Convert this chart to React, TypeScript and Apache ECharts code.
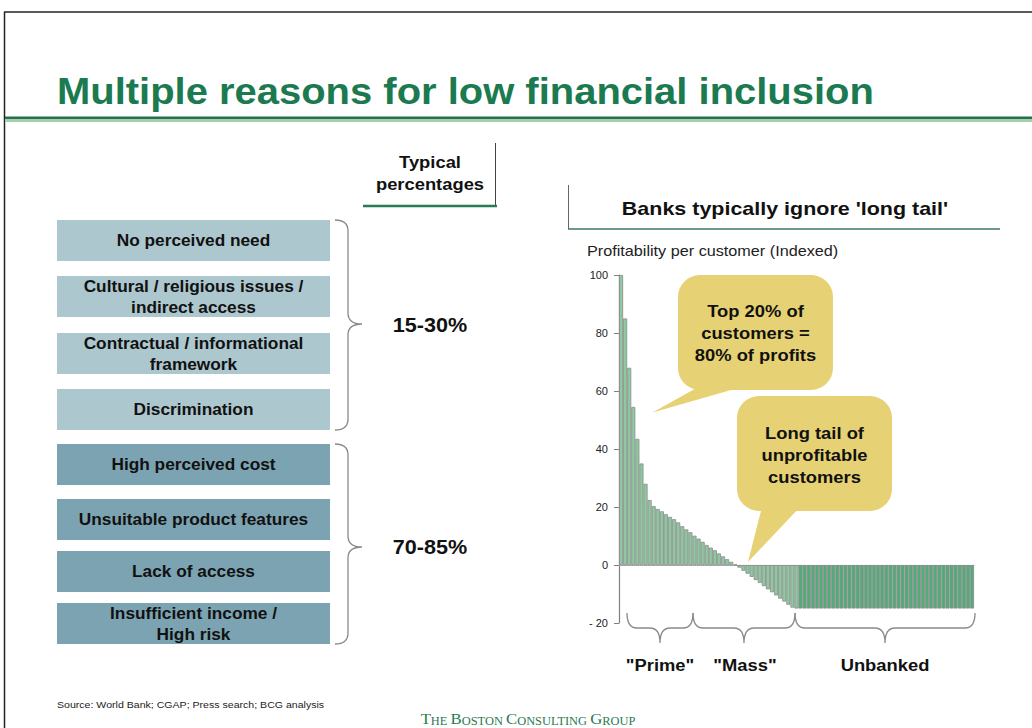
import React, { useEffect, useRef } from "react";
import * as echarts from "echarts";

// ---------- data ----------
const primeMassValues = [
  100, 85, 68, 54.5, 43.5, 35, 28, 22.4, 20.3, 19.3, 18.5, 17.5, 16.6, 15.8, 14.7,
  13.4, 12.3, 11.3, 10.1, 9.1, 8.0, 6.9, 6.0, 5.1, 4.0, 3.0, 2.0, 1.1, 0.2,
  -0.9, -2, -3, -4.1, -5.2, -6.2, -7.3, -8.4, -9.4, -10.5, -11.6, -12.6, -13.7, -14.7, -15,
];
const unbankedValues = [
  -15, -15, -15, -15, -15, -15, -15, -15, -15, -15,
  -15, -15, -15, -15, -15, -15, -15, -15, -15, -15,
  -15, -15, -15, -15, -15, -15, -15, -15, -15, -15,
  -15, -15, -15, -15, -15, -15, -15, -15, -15, -15,
  -15, -15, -15,
];
const yAxisMin = -20;
const yAxisMax = 100;
const yAxisStep = 20;

const titleText = "Multiple reasons for low financial inclusion";
const chartHeader = "Banks typically ignore 'long tail'";
const chartSubtitle = "Profitability per customer (Indexed)";
const percentHeader = "Typical\npercentages";
const reasonsLow = [
  "No perceived need",
  "Cultural / religious issues /\nindirect access",
  "Contractual / informational\nframework",
  "Discrimination",
];
const reasonsHigh = [
  "High perceived cost",
  "Unsuitable product features",
  "Lack of access",
  "Insufficient income /\nHigh risk",
];
const groupPercentages = ["15-30%", "70-85%"];
const segmentLabels = ['"Prime"', '"Mass"', "Unbanked"];
const callout1 = "Top 20% of\ncustomers =\n80% of profits";
const callout2 = "Long tail of\nunprofitable\ncustomers";
const sourceText = "Source: World Bank; CGAP; Press search; BCG analysis";

// ---------- style ----------
const FONT = "'Liberation Sans', Arial, Helvetica, sans-serif";
const SERIF = "'Liberation Serif', 'Times New Roman', serif";
const SX = 1.08;
const GREEN_TITLE = "#1B7A50";
const LIGHT_BAR = "#8EC8A0";
const DARK_BAR = "#52AC7A";
const BOX_LIGHT = "#ADC7CF";
const BOX_DARK = "#7CA3B1";
const CALLOUT = "#E6D174";

function vBrace(xa: number, xm: number, xt: number, y0: number, y1: number, ym: number, r: number) {
  return `M${xa} ${y0} Q${xm} ${y0} ${xm} ${y0 + r} L${xm} ${ym - r} Q${xm} ${ym} ${xt} ${ym} Q${xm} ${ym} ${xm} ${ym + r} L${xm} ${y1 - r} Q${xm} ${y1} ${xa} ${y1}`;
}
function hBrace(x0: number, x1: number, xc: number, y0: number, ym: number, yt: number, r: number) {
  return `M${x0} ${y0} Q${x0} ${ym} ${x0 + r} ${ym} L${xc - r} ${ym} Q${xc} ${ym} ${xc} ${yt} Q${xc} ${ym} ${xc + r} ${ym} L${x1 - r} ${ym} Q${x1} ${ym} ${x1} ${y0}`;
}

const braceDefs: Record<string, string> = {
  braceV1: vBrace(335, 348, 362, 220, 430, 324, 11),
  braceV2: vBrace(335, 348, 362, 444, 644, 547, 11),
  braceH1: hBrace(627, 693, 660, 613, 628, 643, 10),
  braceH2: hBrace(693, 795, 744, 613, 628, 643, 10),
  braceH3: hBrace(795, 975, 885, 613, 628, 643, 10),
};

export default function App() {
  const ref = useRef<HTMLDivElement>(null);

  useEffect(() => {
    document.body.style.margin = "0";
    Object.keys(braceDefs).forEach((k) => {
      echarts.graphic.registerShape(k, echarts.graphic.extendPath(braceDefs[k], {}) as any);
    });
    const chart = echarts.init(ref.current!, undefined, { renderer: "svg" });

    const allValues = [...primeMassValues, ...unbankedValues];
    const categories = allValues.map((_, i) => String(i + 1));
    const barData = [
      ...primeMassValues.map((v) => ({ value: v, itemStyle: { color: LIGHT_BAR } })),
      ...unbankedValues.map((v) => ({ value: v, itemStyle: { color: DARK_BAR } })),
    ];

    const textEl = (x: number, y: number, text: string, size: number, extra: any = {}, sx: number = SX) => ({
      type: "text",
      x,
      y,
      scaleX: sx,
      style: {
        text,
        fontFamily: FONT,
        fontSize: size,
        fill: "#111",
        align: "center",
        verticalAlign: "middle",
        ...extra,
      },
    });

    const boxTops = [220, 276, 333, 389, 444, 499, 551, 603];
    const reasons = [...reasonsLow, ...reasonsHigh];
    const boxEls: any[] = [];
    reasons.forEach((label, i) => {
      boxEls.push({
        type: "rect",
        shape: { x: 57, y: boxTops[i], width: 273, height: 41 },
        style: { fill: i < reasonsLow.length ? BOX_LIGHT : BOX_DARK },
      });
      boxEls.push(textEl(193.5, boxTops[i] + 21, label, 16, { fontWeight: "bold", lineHeight: 21 }));
    });

    const braceEls = Object.keys(braceDefs).map((k) => ({
      type: k,
      x: 0,
      y: 0,
      style: { fill: null, stroke: "#8a8a8a", lineWidth: 1.3 },
    }));

    chart.setOption({
      animation: false,
      grid: { left: 619, width: 355, top: 275, bottom: 105, containLabel: false },
      xAxis: {
        type: "category",
        data: categories,
        axisLine: { show: true, onZero: true, lineStyle: { color: "#a8a8a8", width: 1 } },
        axisTick: { show: false },
        axisLabel: { show: false },
        splitLine: { show: false },
      },
      yAxis: {
        type: "value",
        min: yAxisMin,
        max: yAxisMax,
        interval: yAxisStep,
        axisLine: { show: true, lineStyle: { color: "#808080", width: 1.2 } },
        axisTick: { show: true, length: 5, lineStyle: { color: "#808080" } },
        axisLabel: {
          margin: 11,
          fontFamily: FONT,
          fontSize: 11,
          color: "#222",
          formatter: (v: number) => (v < 0 ? "- " + Math.abs(v) : String(v)),
        },
        splitLine: { show: false },
      },
      series: [
        {
          type: "bar",
          data: barData,
          barCategoryGap: "0%",
          itemStyle: { borderColor: "#8c8c8c", borderWidth: 0.8 },
          silent: true,
        },
      ],
      graphic: [
        // frame
        { type: "line", shape: { x1: 4, y1: 12, x2: 1032, y2: 12 }, style: { stroke: "#222", lineWidth: 1.5 } },
        { type: "line", shape: { x1: 4.5, y1: 12, x2: 4.5, y2: 728 }, style: { stroke: "#222", lineWidth: 1.5 } },
        // title
        textEl(57, 91, titleText, 37, { align: "left", fontWeight: "bold", fill: GREEN_TITLE }),
        { type: "rect", shape: { x: 5, y: 116.5, width: 1027, height: 2.5 }, style: { fill: "#2A6F4E" } },
        { type: "rect", shape: { x: 5, y: 119, width: 1027, height: 3 }, style: { fill: "#A3CFAC" } },
        // percentages header
        textEl(430, 173, percentHeader, 17, { fontWeight: "bold", lineHeight: 22 }),
        { type: "line", shape: { x1: 495.5, y1: 143, x2: 495.5, y2: 207 }, style: { stroke: "#444", lineWidth: 1 } },
        { type: "line", shape: { x1: 363, y1: 206, x2: 497, y2: 206 }, style: { stroke: "#2B7A57", lineWidth: 2.5 } },
        // chart header
        textEl(785, 208, chartHeader, 19, { fontWeight: "bold" }, 1.13),
        { type: "line", shape: { x1: 568.5, y1: 185, x2: 568.5, y2: 229 }, style: { stroke: "#666", lineWidth: 1 } },
        { type: "line", shape: { x1: 568, y1: 229, x2: 1000, y2: 229 }, style: { stroke: "#3D7A5C", lineWidth: 1.5 } },
        textEl(587, 251, chartSubtitle, 15, { align: "left", fill: "#222" }),
        // boxes
        ...boxEls,
        // braces
        ...braceEls,
        textEl(430, 325, groupPercentages[0], 20, { fontWeight: "bold" }),
        textEl(430, 547, groupPercentages[1], 20, { fontWeight: "bold" }),
        // segment labels
        textEl(660, 665, segmentLabels[0], 17, { fontWeight: "bold" }),
        textEl(745, 665, segmentLabels[1], 17, { fontWeight: "bold" }),
        textEl(885, 665, segmentLabels[2], 17, { fontWeight: "bold" }),
        // callouts
        { type: "polygon", shape: { points: [[700, 386], [745, 386], [652.5, 412.5]] }, style: { fill: CALLOUT } },
        { type: "rect", shape: { x: 678, y: 275, width: 155, height: 115, r: 22 }, style: { fill: CALLOUT } },
        textEl(755.5, 333, callout1, 17, { fontWeight: "bold", lineHeight: 22 }),
        { type: "polygon", shape: { points: [[762, 507], [800, 507], [748, 562]] }, style: { fill: CALLOUT } },
        { type: "rect", shape: { x: 737, y: 396, width: 155, height: 115, r: 22 }, style: { fill: CALLOUT } },
        textEl(814.5, 455, callout2, 17, { fontWeight: "bold", lineHeight: 22 }),
        // footer
        textEl(57, 705, sourceText, 9.8, { align: "left", fill: "#222" }),
        {
          type: "text",
          x: 528,
          y: 719,
          scaleX: SX,
          style: {
            text: "{b|T}{s|HE }{b|B}{s|OSTON }{b|C}{s|ONSULTING }{b|G}{s|ROUP}",
            align: "center",
            verticalAlign: "middle",
            fill: "#2A7A50",
            rich: {
              b: { fontFamily: SERIF, fontSize: 15.5, fill: "#2A7A50" },
              s: { fontFamily: SERIF, fontSize: 11.5, fill: "#2A7A50", verticalAlign: "bottom" },
            },
          },
        },
      ],
    });

    return () => chart.dispose();
  }, []);

  return <div ref={ref} style={{ width: 1032, height: 728 }} />;
}
